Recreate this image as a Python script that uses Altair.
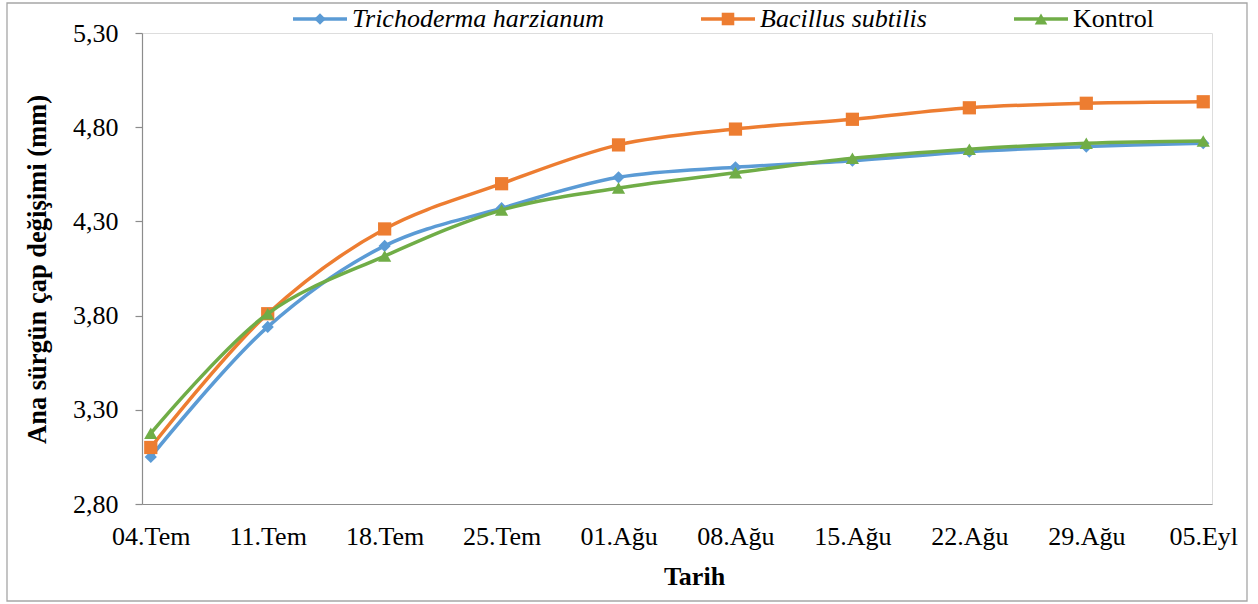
import altair as alt
import pandas as pd

# Measurement dates (weekly)
dates = ["04.Tem", "11.Tem", "18.Tem", "25.Tem", "01.Ağu",
         "08.Ağu", "15.Ağu", "22.Ağu", "29.Ağu", "05.Eyl"]

# Main shoot diameter change (mm) per treatment
trichoderma = [3.05, 3.74, 4.17, 4.37, 4.534, 4.587, 4.622, 4.670, 4.697, 4.715]
bacillus = [3.10, 3.81, 4.26, 4.50, 4.706, 4.790, 4.842, 4.903, 4.927, 4.935]
kontrol = [3.175, 3.81, 4.116, 4.36, 4.477, 4.558, 4.635, 4.683, 4.715, 4.727]

series_names = ["Trichoderma harzianum", "Bacillus subtilis", "Kontrol"]
series_values = [trichoderma, bacillus, kontrol]
series_colors = ["#5B9BD5", "#ED7D31", "#70AD47"]
series_shapes = ["diamond", "square", "triangle-up"]
series_sizes = [150, 175, 175]
series_italic = [True, True, False]

y_ticks = [2.80, 3.30, 3.80, 4.30, 4.80, 5.30]

FONT = "Liberation Serif"
GRAY = "#8c8c8c"
W, H = 1070, 471

rows = []
for name, vals in zip(series_names, series_values):
    for d, v in zip(dates, vals):
        rows.append({"Tarih": d, "deger": v, "seri": name})
df = pd.DataFrame(rows)

x_enc = alt.X(
    "Tarih:N",
    sort=dates,
    scale=alt.Scale(type="point", padding=0.075),
    axis=alt.Axis(
        title="Tarih", labelAngle=0, ticks=False, domainColor=GRAY, domainWidth=1.2,
        labelFontSize=26, labelColor="black", labelFont=FONT,
        labelBaseline="alphabetic", labelPadding=40,
        titleFontSize=26, titleFontWeight="bold", titleFont=FONT, titleColor="black",
        titleX=552, titleY=80, titleBaseline="alphabetic",
    ),
)
y_enc = alt.Y(
    "deger:Q",
    scale=alt.Scale(domain=[2.8, 5.3], nice=False, zero=False),
    axis=alt.Axis(
        title="Ana sürgün çap değişimi (mm)", values=y_ticks, grid=False,
        labelExpr="replace(format(datum.value, '.2f'), '.', ',')",
        domainColor=GRAY, domainWidth=1.2, tickColor=GRAY, tickSize=7, tickWidth=1.2,
        labelFontSize=26, labelColor="black", labelFont=FONT, labelPadding=17,
        titleFontSize=26.5, titleFontWeight="bold", titleFont=FONT, titleColor="black",
        titleX=-91, titleY=236, titleBaseline="bottom",
    ),
)

layers = []

# outer frame around the whole chart
frame = alt.Chart(pd.DataFrame({"k": [0]})).mark_rect(
    fillOpacity=0, stroke="#a6a6a6", strokeWidth=1.3
).encode(
    x=alt.value(-135), x2=alt.value(1105), y=alt.value(-30), y2=alt.value(568)
)
layers.append(frame)

for name, color, shape, size in zip(series_names, series_colors, series_shapes, series_sizes):
    base = alt.Chart(df).transform_filter(alt.datum.seri == name)
    line = base.mark_line(
        interpolate="catmull-rom", strokeWidth=3.5, color=color, strokeCap="round"
    ).encode(x=x_enc, y=y_enc)
    pts = base.mark_point(
        filled=True, shape=shape, size=size, color=color, opacity=1
    ).encode(x=x_enc, y=y_enc)
    layers += [line, pts]

# legend across the top
legend_line_start = [151, 559, 872]
legend_y = -14
one = pd.DataFrame({"k": [0]})
for name, color, shape, size, italic, x0 in zip(
    series_names, series_colors, series_shapes, series_sizes, series_italic, legend_line_start
):
    seg = alt.Chart(one).mark_rule(color=color, strokeWidth=3.5).encode(
        x=alt.value(x0), x2=alt.value(x0 + 54), y=alt.value(legend_y)
    )
    sym = alt.Chart(one).mark_point(
        filled=True, shape=shape, size=size * 0.9, color=color, opacity=1
    ).encode(x=alt.value(x0 + 27), y=alt.value(legend_y))
    txt = alt.Chart(one).mark_text(
        align="left", baseline="alphabetic", font=FONT, fontSize=26,
        fontStyle="italic" if italic else "normal", color="black"
    ).encode(x=alt.value(x0 + 59), y=alt.value(-6), text=alt.value(name))
    layers += [seg, sym, txt]

chart = alt.layer(*layers).properties(
    width=W, height=H,
    padding={"left": 142, "top": 33, "right": 46, "bottom": 100},
    autosize=alt.AutoSizeParams(type="none"),
).configure_view(stroke=None).configure(background="white")

chart.save("out.html", embed_options={"renderer": "svg", "actions": False})
